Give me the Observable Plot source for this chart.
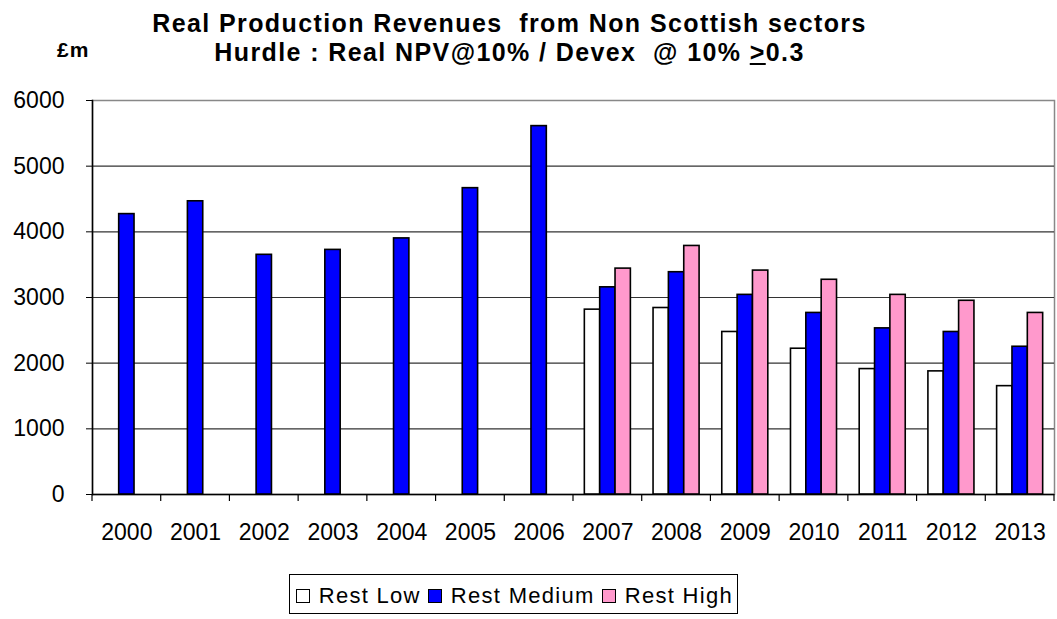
<!DOCTYPE html>
<html>
<head>
<meta charset="utf-8">
<script src="https://cdn.jsdelivr.net/npm/d3@7"></script>
<script src="https://cdn.jsdelivr.net/npm/@observablehq/plot@0.6"></script>
<style>
  body { margin: 0; background: #fff; font-family: "Liberation Sans", Arial, sans-serif; color: #000; }
  #wrap { position: relative; width: 1057px; height: 619px; overflow: hidden; background: #fff; }
  .title { position: absolute; left: 0; width: 1019px; text-align: center; font-weight: bold; font-size: 25px; line-height: 25px; letter-spacing: 1.4px; white-space: pre; }
  #unit { position: absolute; left: 57px; top: 39px; font-weight: bold; font-size: 21px; line-height: 21px; letter-spacing: 1px; }
  .layer { position: absolute; left: 0; top: 0; }
  #legend { position: absolute; right: 319px; top: 574px; height: 40px; border: 1px solid #000; display: flex; align-items: center; padding: 3px 4px 0 6px; box-sizing: border-box; font-size: 22px; letter-spacing: 1.3px; white-space: pre; }
  .sw { width: 12px; height: 12px; border: 1px solid #000; margin-right: 9px; margin-left: 7px; flex: none; }
  .sw.first { margin-left: 0; }
</style>
</head>
<body>
<div id="wrap">
  <div class="title" style="top:11px">Real Production Revenues  from Non Scottish sectors</div>
  <div class="title" style="top:40px">Hurdle : Real NPV@10% / Devex  @ 10% <span style="text-decoration:underline">&gt;</span>0.3</div>
  <div id="unit">£m</div>
  <div id="back" class="layer"></div>
  <div id="front" class="layer"></div>
  <div id="legend"></div>
</div>
<script>
// ---- data ----
const years = ["2000","2001","2002","2003","2004","2005","2006","2007","2008","2009","2010","2011","2012","2013"];
const seriesNames = ["Rest Low", "Rest Medium", "Rest High"];
const restLow    = [null, null, null, null, null, null, null, 2815, 2840, 2475, 2220, 1910, 1875, 1650];
const restMedium = [4270, 4465, 3650, 3725, 3900, 4665, 5610, 3155, 3385, 3040, 2765, 2530, 2475, 2250];
const restHigh   = [null, null, null, null, null, null, null, 3440, 3785, 3410, 3270, 3040, 2950, 2765];
const yTicks = [0, 1000, 2000, 3000, 4000, 5000, 6000];
const seriesColors = ["#ffffff", "#0000ff", "#ff99cc"];

const seriesValues = [restLow, restMedium, restHigh];
const table = [];
years.forEach((yr, i) => {
  seriesNames.forEach((s, k) => {
    const v = seriesValues[k][i];
    if (v != null) table.push({year: yr, series: s, value: v});
  });
});

const dims = {width: 1057, height: 560, marginTop: 100, marginBottom: 66, marginLeft: 92, marginRight: 3};
const style = {fontFamily: "'Liberation Sans', Arial, sans-serif", fontSize: "23px", color: "#000", background: "transparent", overflow: "visible"};

// background layer: frame, grid, axes
const back = Plot.plot({
  ...dims,
  style,
  x: {type: "band", domain: years, padding: 0, round: false, label: null},
  y: {domain: [0, 6000], label: null},
  marks: [
    Plot.frame({stroke: "#888", strokeWidth: 1.5}),
    Plot.ruleY(yTicks.filter(d => d > 0 && d < 6000), {stroke: "#333", strokeWidth: 1.2}),
    Plot.axisY({ticks: yTicks, tickSize: 6, tickPadding: 22, tickFormat: d => String(d), label: null, fontSize: 23, letterSpacing: "0.5px"}),
    Plot.axisX({tickSize: 0, tickPadding: 29, label: null, fontSize: 23, letterSpacing: "0.5px"}),
    Plot.ruleY([0], {stroke: "#000", strokeWidth: 1.5}),
    Plot.frame({anchor: "left", stroke: "#000", strokeWidth: 1.5})
  ]
});

// tick marks at the category boundaries, from the plot's own x and y scales
const xs = back.scale("x");
const ys = back.scale("y");
const bounds = years.map(yr => xs.apply(yr));
bounds.push(xs.apply(years[years.length - 1]) + xs.bandwidth);
const y0 = ys.apply(0);
const g = d3.select(back).append("g").attr("stroke", "#000").attr("stroke-width", 1.2);
bounds.forEach(bx => {
  g.append("line").attr("x1", bx).attr("x2", bx).attr("y1", y0).attr("y2", y0 + 7);
});

// foreground layer: grouped bars
const front = Plot.plot({
  ...dims,
  style,
  fx: {domain: years, paddingInner: 0.33, paddingOuter: 0.165, round: false, axis: null, label: null},
  x: {domain: seriesNames, padding: 0, round: false, axis: null},
  y: {domain: [0, 6000], axis: null},
  color: {domain: seriesNames, range: seriesColors},
  marks: [
    Plot.barY(table, {fx: "year", x: "series", y: "value", fill: "series", stroke: "#000", strokeWidth: 1.6})
  ]
});

document.getElementById("back").appendChild(back);
document.getElementById("front").appendChild(front);

// legend
const legend = document.getElementById("legend");
seriesNames.forEach((s, k) => {
  const sw = document.createElement("span");
  sw.className = "sw" + (k === 0 ? " first" : "");
  sw.style.background = seriesColors[k];
  legend.appendChild(sw);
  const t = document.createElement("span");
  t.textContent = s;
  legend.appendChild(t);
});
</script>
</body>
</html>
